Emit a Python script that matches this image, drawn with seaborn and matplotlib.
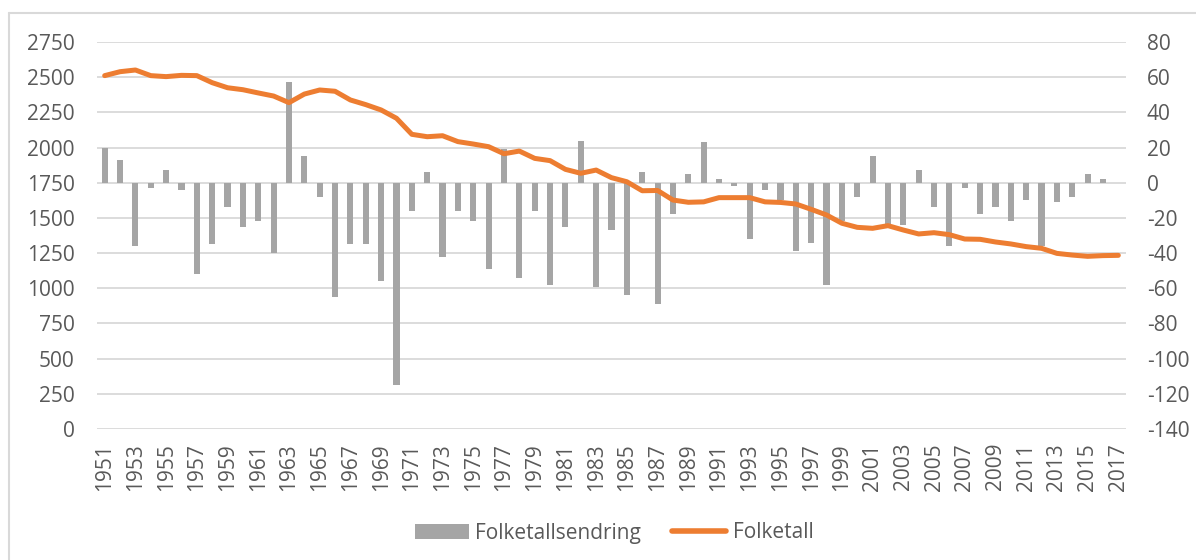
import matplotlib
matplotlib.use("Agg")
import matplotlib.pyplot as plt
import seaborn as sns
import pandas as pd
import numpy as np
from matplotlib.patches import Patch
from matplotlib.lines import Line2D

years = list(range(1951, 2018))

folketall = [2511, 2539, 2551, 2511, 2504, 2513, 2511, 2461, 2425, 2411,
             2388, 2366, 2319, 2380, 2409, 2400, 2338, 2305, 2267, 2208,
             2094, 2077, 2084, 2042, 2025, 2006, 1956, 1975, 1923, 1907,
             1845, 1817, 1840, 1786, 1757, 1693, 1695, 1627, 1611, 1614,
             1644, 1644, 1644, 1614, 1610, 1599, 1561, 1521, 1462, 1433,
             1426, 1445, 1414, 1386, 1395, 1381, 1350, 1348, 1329, 1315,
             1296, 1284, 1248, 1236, 1227, 1232, 1234]

endring = [20, 13, -36, -3, 7, -4, -52, -35, -14, -25,
           -22, -40, 57, 15, -8, -65, -35, -35, -56, -115,
           -16, 6, -42, -16, -22, -49, 19, -54, -16, -58,
           -25, 24, -59, -27, -64, 6, -69, -18, 5, 23,
           2, -2, -32, -4, -10, -39, -34, -58, -22, -8,
           15, -24, -24, 7, -14, -36, -3, -18, -14, -22,
           -10, -36, -11, -8, 5, 2, 0]

left_ticks = list(range(0, 2751, 250))
right_ticks = list(range(-140, 81, 20))

df = pd.DataFrame({"year": [str(y) for y in years],
                   "Folketall": folketall,
                   "Folketallsendring": endring})

sns.set_theme(style="white")
plt.rcParams["font.family"] = ["Open Sans", "DejaVu Sans"]
plt.rcParams["axes.unicode_minus"] = False

TXT = "#595959"
GRID = "#D9D9D9"
BAR = "#A5A5A5"
LINE = "#ED7D31"
FS = 15

W, H = 1196, 560
fig = plt.figure(figsize=(W / 100, H / 100), dpi=100)
ax = fig.add_axes([97 / W, 1 - 429 / H, (1126 - 97) / W, (429 - 42) / H])
ax2 = ax.twinx()

# bars on secondary (right) axis
sns.barplot(data=df, x="year", y="Folketallsendring", color=BAR, width=0.4,
            saturation=1, ax=ax2, zorder=2, linewidth=0)
# line on primary (left) axis
sns.lineplot(data=df, x="year", y="Folketall", color=LINE, linewidth=3.6,
             sort=False, ax=ax, zorder=3)
for ln in ax.lines:
    ln.set_solid_capstyle("round")
    ln.set_solid_joinstyle("round")

ax.set_zorder(ax2.get_zorder() + 1)
ax.patch.set_visible(False)

ax.set_ylim(0, 2750)
ax2.set_ylim(-140, 80)
ax.set_yticks(left_ticks)
ax2.set_yticks(right_ticks)
ax.set_xlim(-0.5, len(years) - 0.5)

ax2.grid(axis="y", color=GRID, linewidth=1.3)
ax2.set_axisbelow(True)
ax.grid(False)

xt = list(range(0, len(years), 2))
ax.set_xticks(xt)
ax.set_xticklabels([str(years[i]) for i in xt], rotation=90)

for a in (ax, ax2):
    for s in a.spines.values():
        s.set_visible(False)
    a.set_xlabel("")
    a.set_ylabel("")
    a.tick_params(length=0, labelsize=FS, labelcolor=TXT)
ax.tick_params(axis="y", pad=16)
ax2.tick_params(axis="y", pad=15)
ax.tick_params(axis="x", pad=10)
ax2.tick_params(axis="x", labelbottom=False)

if ax.get_legend():
    ax.get_legend().remove()

handles = [Patch(facecolor=BAR, edgecolor="none"),
           Line2D([0], [0], color=LINE, linewidth=4, solid_capstyle="round")]
fig.legend(handles, ["Folketallsendring", "Folketall"], loc="center",
           bbox_to_anchor=(614 / W, 1 - 533 / H), ncol=2, frameon=False,
           fontsize=FS, labelcolor=TXT, handlelength=2.6, handletextpad=0.3,
           columnspacing=1.5)

# outer chart border
fig.add_artist(Line2D([9 / W, 9 / W], [0, 1 - 13 / H], transform=fig.transFigure,
                      color=GRID, linewidth=1.5))
fig.add_artist(Line2D([9 / W, 1], [1 - 13 / H, 1 - 13 / H], transform=fig.transFigure,
                      color=GRID, linewidth=1.5))

fig.savefig("out.png", dpi=100, facecolor="white")
